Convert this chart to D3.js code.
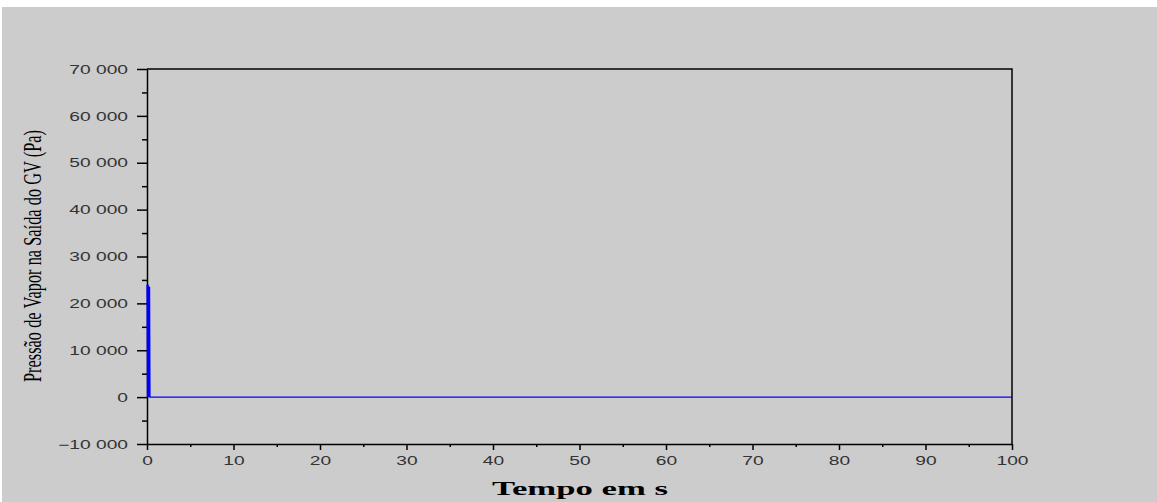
<!DOCTYPE html>
<html>
<head>
<meta charset="utf-8">
<script src="https://cdn.jsdelivr.net/npm/d3@7"></script>
<style>
  html, body { margin: 0; padding: 0; background: #fff; }
  svg { display: block; }
</style>
</head>
<body>
<svg id="chart" width="1157" height="502"></svg>
<script>
// time (s) and pressure (Pa): fast spike near t=0, then flat at 0
const tempo   = [0, 0.05, 0.1, 0.15, 0.2, 0.25, 0.3, 0.35, 100]
const pressao = [24000, 0, 24000, 0, 23800, 0, 23500, 0, 0]

const yTicks = [-10000, 0, 10000, 20000, 30000, 40000, 50000, 60000, 70000]
const yMinor = [-5000, 5000, 15000, 25000, 35000, 45000, 55000, 65000]
const xTicks = [0, 10, 20, 30, 40, 50, 60, 70, 80, 90, 100]
const xMinor = [5, 15, 25, 35, 45, 55, 65, 75, 85, 95]

const svg = d3.select('#chart')
const fmt = d => d3.format(',')(d).replace(/,/g, ' ').replace('-', '- ')
const sans = '"Liberation Sans", Arial, sans-serif'

// gray figure background
svg.append('rect')
    .attr('x', 2).attr('y', 7)
    .attr('width', 1155).attr('height', 495)
    .attr('fill', '#cccccc')

const x = d3.scaleLinear().domain([0, 100]).range([147, 1012])
const y = d3.scaleLinear().domain([-10000, 70000]).range([444, 69])

// frame top + right
svg.append('path')
    .attr('d', `M${x(0)},${y(70000)}H${x(100)}V${y(-10000)}`)
    .attr('fill', 'none').attr('stroke', '#000').attr('stroke-width', 1.5)

// minor ticks first
svg.append('g').attr('transform', `translate(${x(0)},0)`)
    .call(d3.axisLeft(y).tickValues(yMinor).tickSize(5).tickFormat(''))
    .call(g => g.select('.domain').remove())
svg.append('g').attr('transform', `translate(0,${y(-10000)})`)
    .call(d3.axisBottom(x).tickValues(xMinor).tickSize(3).tickFormat(''))
    .call(g => g.select('.domain').remove())

const yAxis = svg.append('g').attr('transform', `translate(${x(0)},0)`)
    .call(d3.axisLeft(y).tickValues(yTicks).tickSize(10).tickSizeOuter(0).tickFormat(fmt))
    .attr('font-family', sans).attr('font-size', 12)
yAxis.selectAll('text')
    .attr('x', null).attr('dy', '0.35em')
    .attr('transform', 'translate(-19,0) scale(1.6,1)')

const xAxis = svg.append('g').attr('transform', `translate(0,${y(-10000)})`)
    .call(d3.axisBottom(x).tickValues(xTicks).tickSize(6).tickSizeOuter(0))
    .attr('font-family', sans).attr('font-size', 12)
xAxis.selectAll('text')
    .attr('y', null).attr('dy', null)
    .attr('transform', 'translate(0,21) scale(1.6,1)')

svg.selectAll('.domain').attr('stroke-width', 1.5)
svg.selectAll('.tick line').attr('stroke', '#000').attr('stroke-width', 1.5)
svg.selectAll('.tick text').attr('fill', '#333')

// series
const pts = tempo.map((t, i) => [t, pressao[i]])
svg.append('path')
    .datum(pts)
    .attr('d', d3.line().x(d => x(d[0])).y(d => y(d[1])))
    .attr('fill', 'none')
    .attr('stroke', '#0000ff')
    .attr('stroke-width', 1.2)

// axis titles
svg.append('text')
    .attr('transform', 'translate(41,256) rotate(-90)')
    .attr('text-anchor', 'middle')
    .attr('textLength', 252).attr('lengthAdjust', 'spacingAndGlyphs')
    .attr('font-family', '"Liberation Serif", "Times New Roman", serif')
    .attr('font-size', 25)
    .text('Pressão de Vapor na Saída do GV (Pa)')

svg.append('text')
    .attr('x', 580).attr('y', 495)
    .attr('text-anchor', 'middle')
    .attr('textLength', 176).attr('lengthAdjust', 'spacingAndGlyphs')
    .attr('font-family', '"Liberation Serif", "Times New Roman", serif')
    .attr('font-weight', 'bold')
    .attr('font-size', 19)
    .text('Tempo em s')
</script>
</body>
</html>
